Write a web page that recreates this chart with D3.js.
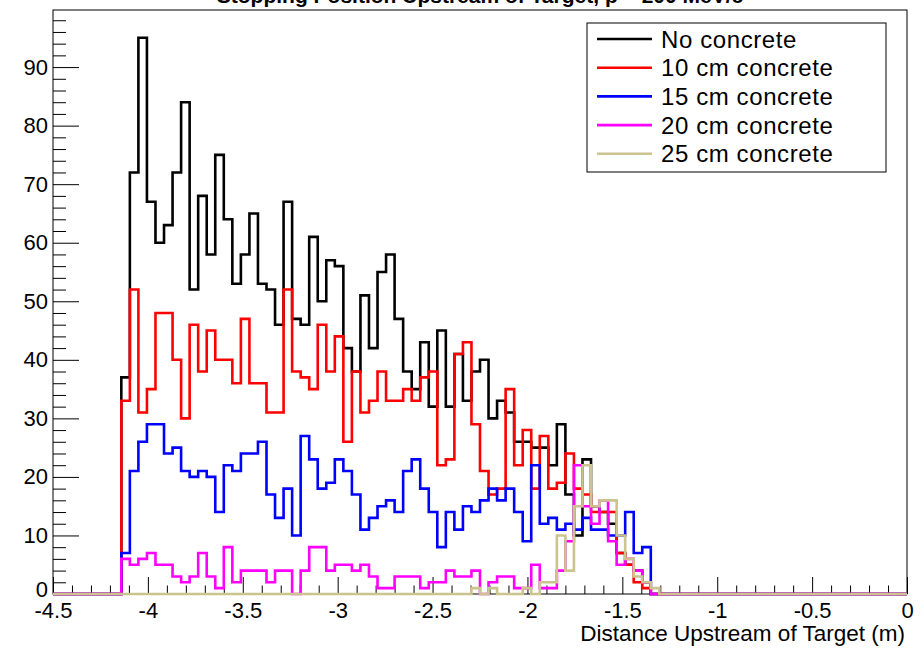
<!DOCTYPE html>
<html>
<head>
<meta charset="utf-8">
<script src="https://cdn.jsdelivr.net/npm/d3@7"></script>
<style>
  html, body { margin: 0; padding: 0; background: #fff; }
  svg { display: block; }
  text { font-family: "Liberation Sans", Arial, Helvetica, sans-serif; fill: #000; }
</style>
</head>
<body>
<svg id="chart" width="923" height="649"></svg>
<script>
// Histogram binning: 100 bins from -4.5 m to 0 m
const histMin = -4.5;
const histMax = 0;
const nBins = 100;
// index of the first bin listed in each series (earlier bins are empty)
const firstBin = 8;

// Counts per bin, starting at bin index firstBin
const noConcrete = [37, 72, 95, 67, 60, 63, 72, 84, 52, 68, 58, 75, 64, 53, 58, 65,
  53, 52, 46, 67, 47, 46, 61, 50, 57, 56, 42, 38, 51, 42, 55, 58,
  47, 38, 35, 43, 32, 45, 32, 41, 33, 38, 40, 30, 33, 31, 26, 26,
  25, 25, 22, 29, 17, 10, 23, 15, 14, 12, 7, 5, 4, 2, 0, 0];
const concrete10 = [33, 52, 31, 35, 48, 48, 40, 30, 46, 38, 45, 40, 40, 36, 47, 36,
  36, 31, 31, 52, 38, 37, 35, 46, 38, 44, 26, 38, 31, 33, 38, 33,
  33, 35, 33, 37, 38, 22, 23, 41, 43, 29, 21, 17, 18, 35, 22, 28,
  18, 27, 18, 19, 24, 18, 17, 14, 14, 14, 7, 5, 2, 1, 0, 0];
const concrete15 = [7, 21, 26, 29, 29, 24, 25, 21, 20, 21, 20, 14, 22, 21, 24, 24,
  26, 17, 13, 18, 10, 27, 23, 18, 19, 23, 21, 17, 11, 13, 15, 16,
  14, 21, 23, 18, 14, 8, 14, 11, 15, 14, 16, 18, 16, 18, 14, 9,
  22, 12, 13, 11, 12, 11, 13, 11, 11, 10, 10, 14, 7, 8, 0, 0];
const concrete20 = [6, 5, 6, 7, 5, 5, 3, 2, 3, 7, 3, 1, 8, 2, 4, 4,
  4, 2, 4, 4, 0, 4, 8, 8, 4, 5, 5, 4, 5, 3, 1, 1,
  3, 3, 3, 1, 2, 2, 4, 3, 3, 4, 0, 2, 3, 3, 1, 1,
  5, 1, 1, 4, 9, 22, 15, 12, 16, 9, 5, 6, 4, 2, 0, 0];
const concrete25 = [0, 0, 0, 0, 0, 0, 0, 0, 0, 0, 0, 0, 0, 0, 0, 0,
  0, 0, 0, 0, 0, 0, 0, 0, 0, 0, 0, 0, 0, 0, 0, 0,
  0, 0, 0, 0, 0, 0, 0, 0, 0, 1, 0, 1, 0, 0, 0, 1,
  0, 2, 2, 10, 4, 15, 22, 15, 16, 16, 10, 6, 3, 2, 1, 0];

const seriesNames = ["No concrete", "10 cm concrete", "15 cm concrete", "20 cm concrete", "25 cm concrete"];
const seriesColors = ["#000000", "#ff0000", "#0000ff", "#ff00ff", "#cbc48f"];
const seriesValues = [noConcrete, concrete10, concrete15, concrete20, concrete25];

const xTickValues = [-4.5, -4, -3.5, -3, -2.5, -2, -1.5, -1, -0.5, 0];
const xTickLabels = ["-4.5", "-4", "-3.5", "-3", "-2.5", "-2", "-1.5", "-1", "-0.5", "0"];
const yTickValues = [0, 10, 20, 30, 40, 50, 60, 70, 80, 90];
const yTickLabels = ["0", "10", "20", "30", "40", "50", "60", "70", "80", "90"];

const titleText = "Stopping Position Upstream of Target, p = 200 MeV/c";
const xAxisTitle = "Distance Upstream of Target (m)";

// ---- layout ----
const frame = { left: 53, right: 907, top: 10, bottom: 594 };
const svg = d3.select("#chart");

const x = d3.scaleLinear().domain([histMin, histMax]).range([frame.left, frame.right]);
const yMax = 1.05 * d3.max(seriesValues.flat());
const y = d3.scaleLinear().domain([0, yMax]).range([frame.bottom, frame.top]);

// title (sits above the frame, partly outside the canvas)
svg.append("text")
  .attr("x", (frame.left + frame.right) / 2)
  .attr("y", 3)
  .attr("text-anchor", "middle")
  .attr("font-size", 21)
  .attr("font-weight", "bold")
  .text(titleText);

// frame
svg.append("rect")
  .attr("x", frame.left).attr("y", frame.top)
  .attr("width", frame.right - frame.left)
  .attr("height", frame.bottom - frame.top)
  .attr("fill", "none").attr("stroke", "#000").attr("stroke-width", 1);

// x axis: major ticks with labels, minor ticks every 0.1
const xMinor = d3.range(0, 46).map(i => histMin + i * 0.1).filter((v, i) => i % 5 !== 0);
const xAxis = d3.axisBottom(x)
  .tickValues(xTickValues)
  .tickFormat((d, i) => xTickLabels[i])
  .tickSize(-17).tickPadding(8);
const gx = svg.append("g").attr("transform", `translate(0,${frame.bottom})`).call(xAxis);
svg.append("g").attr("transform", `translate(0,${frame.bottom})`)
  .call(d3.axisBottom(x).tickValues(xMinor).tickFormat("").tickSize(-8.5));

// y axis: major ticks every 10, minor every 2
const yMinor = d3.range(0, 50).map(i => i * 2).filter(v => v % 10 !== 0);
const yAxis = d3.axisLeft(y)
  .tickValues(yTickValues)
  .tickFormat((d, i) => yTickLabels[i])
  .tickSize(-26).tickPadding(5);
const gy = svg.append("g").attr("transform", `translate(${frame.left},0)`).call(yAxis);
svg.append("g").attr("transform", `translate(${frame.left},0)`)
  .call(d3.axisLeft(y).tickValues(yMinor).tickFormat("").tickSize(-13));

svg.selectAll(".domain").remove();
svg.selectAll(".tick line").attr("stroke", "#000").attr("stroke-width", 1);
gx.selectAll(".tick text").attr("font-size", 22).attr("font-family", "Liberation Sans, Arial, sans-serif");
gy.selectAll(".tick text").attr("font-size", 22).attr("font-family", "Liberation Sans, Arial, sans-serif");
// the zero label of the y axis sits a little higher so it clears the x labels
gy.selectAll(".tick text").filter((d, i) => i === 0).attr("dy", "0.12em");

// x axis title
svg.append("text")
  .attr("x", 905)
  .attr("y", 641)
  .attr("text-anchor", "end")
  .attr("font-size", 22.5)
  .text(xAxisTitle);

// ---- histograms (step outlines over the full axis range) ----
const binEdge = i => histMin + i * (histMax - histMin) / nBins;
const binValue = (arr, i) => (i >= firstBin && i - firstBin < arr.length) ? arr[i - firstBin] : 0;

const stepLine = d3.line().x(d => x(d[0])).y(d => y(d[1]));

seriesValues.forEach((arr, s) => {
  const pts = [[binEdge(0), 0]];
  for (let i = 0; i < nBins; i++) {
    const v = binValue(arr, i);
    pts.push([binEdge(i), v], [binEdge(i + 1), v]);
  }
  pts.push([binEdge(nBins), 0]);
  svg.append("path")
    .attr("d", stepLine(pts))
    .attr("fill", "none")
    .attr("stroke", seriesColors[s])
    .attr("stroke-width", 2.6)
    .attr("stroke-linejoin", "miter")
    .attr("stroke-linecap", "butt");
});

// ---- legend ----
const legend = { x: 587, y: 23, w: 299, h: 149, row0: 39, rowStep: 28.7 };
svg.append("rect")
  .attr("x", legend.x).attr("y", legend.y)
  .attr("width", legend.w).attr("height", legend.h)
  .attr("fill", "#fff").attr("stroke", "#000").attr("stroke-width", 1);

seriesNames.forEach((name, s) => {
  const cy = legend.row0 + s * legend.rowStep;
  svg.append("line")
    .attr("x1", 597).attr("x2", 652)
    .attr("y1", cy).attr("y2", cy)
    .attr("stroke", seriesColors[s]).attr("stroke-width", 2.6);
  svg.append("text")
    .attr("x", 661)
    .attr("y", cy)
    .attr("dy", "0.36em")
    .attr("font-size", 24)
    .attr("letter-spacing", 0.6)
    .text(name);
});
</script>
</body>
</html>
